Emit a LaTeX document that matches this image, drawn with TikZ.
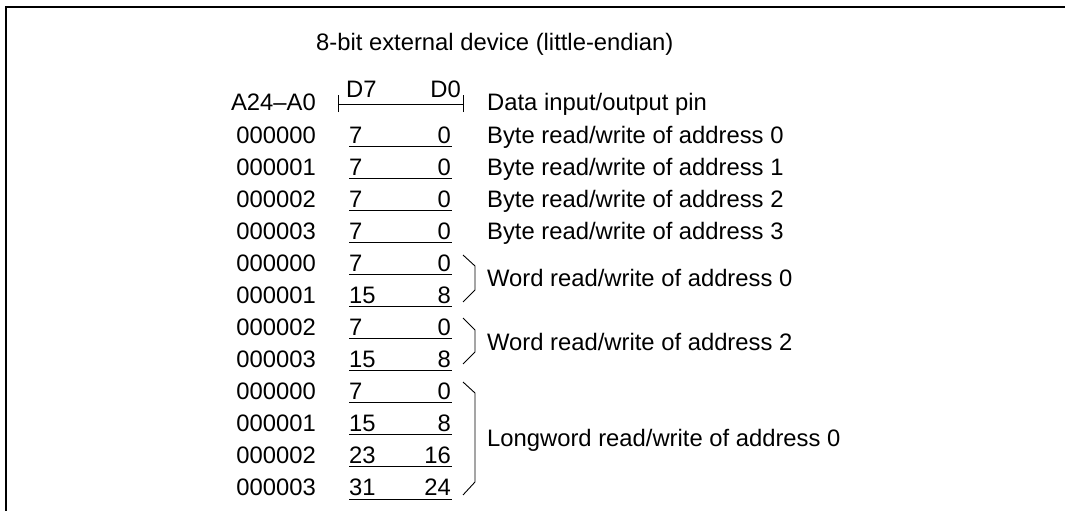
\documentclass[tikz,border=0pt]{standalone}
\usepackage{fontspec}
\setmainfont{Liberation Sans}
\begin{document}
\begin{tikzpicture}[x=1pt,y=-1pt,
  txt/.style={inner sep=0pt, font=\fontsize{23.8}{28}\selectfont},
  uline/.style={line width=0.9pt},
  bracestyle/.style={line width=0.9pt, line join=miter},
  frame/.style={line width=1.8pt}]
\useasboundingbox (0,0) rectangle (1065,511);
% frame
\coordinate (fTR) at (1065,7);
\coordinate (fTL) at (6,7);
\coordinate (fBL) at (6,511);
\draw[frame] (fTR) -- (fTL) -- (fBL);
% title
\node[txt, anchor=base west] (title) at (316,51) {8-bit external device (little-endian)};
% header
\node[txt, anchor=base east] (ahead) at (316,110) {A24--A0};
\node[txt, anchor=base west] (d7) at (346,97.5) {D7};
\node[txt, anchor=base east] (d0) at (461,97.5) {D0};
\node[txt, anchor=base west] (pin) at (487,110) {Data input/output pin};
\coordinate (hL) at (338,104);
\coordinate (hR) at (463,104);
\draw[uline] (hL) -- (hR);
\draw[uline] ([yshift=-8pt]hL) -- ([yshift=9pt]hL);
\draw[uline] ([yshift=-8pt]hR) -- ([yshift=9pt]hR);
% rows
\foreach \i/\a/\l/\r in {0/000000/7/0, 1/000001/7/0, 2/000002/7/0, 3/000003/7/0,
  4/000000/7/0, 5/000001/15/8, 6/000002/7/0, 7/000003/15/8,
  8/000000/7/0, 9/000001/15/8, 10/000002/23/16, 11/000003/31/24}{
  \pgfmathsetmacro\b{143+32.09*\i}
  \pgfmathsetmacro\u{\b+3}
  \node[txt, anchor=base east] (addr\i) at (316,\b) {\a};
  \node[txt, anchor=base west] (lo\i) at (349,\b) {\l};
  \node[txt, anchor=base east] (hi\i) at (451,\b) {\r};
  \coordinate (ulL\i) at (349,\u);
  \coordinate (ulR\i) at (452,\u);
  \draw[uline] (ulL\i) -- (ulR\i);
}
% byte descriptions
\foreach \i in {0,1,2,3}{
  \pgfmathsetmacro\b{143+32.09*\i}
  \node[txt, anchor=base west] (desc\i) at (487,\b) {Byte read/write of address \i};
}
% braces
\coordinate (w0a) at (463,255); \coordinate (w0b) at (475,266);
\coordinate (w0c) at (475,290); \coordinate (w0d) at (463,302);
\draw[bracestyle] (w0a) -- (w0b) -- (w0c) -- (w0d);
\node[txt, anchor=base west] (wd0) at (487,286.5) {Word read/write of address 0};
\coordinate (w2a) at (463,318); \coordinate (w2b) at (475,330);
\coordinate (w2c) at (475,352); \coordinate (w2d) at (463,364);
\draw[bracestyle] (w2a) -- (w2b) -- (w2c) -- (w2d);
\node[txt, anchor=base west] (wd2) at (487,350.5) {Word read/write of address 2};
\coordinate (l0a) at (463,382); \coordinate (l0b) at (475,393);
\coordinate (l0c) at (475,482); \coordinate (l0d) at (463,495);
\draw[bracestyle] (l0a) -- (l0b) -- (l0c) -- (l0d);
\node[txt, anchor=base west] (ld0) at (487,446) {Longword read/write of address 0};
\end{tikzpicture}
\end{document}
